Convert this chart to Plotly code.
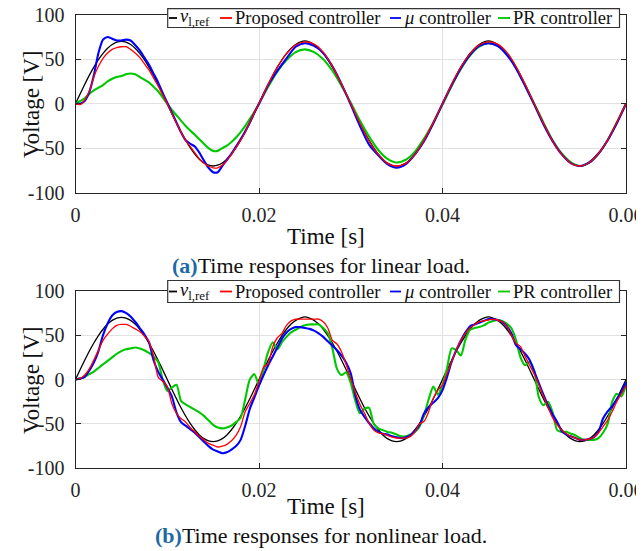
import plotly.graph_objects as go

# ---------------- data (time in ms, voltage in V) ----------------
t_a_ms = [i * 0.5 for i in range(41)] + list(range(21, 61))
t_b_ms = [i * 0.5 for i in range(121)]

# (a) linear load
ref_a = [0, 11.0, 21.6, 31.8, 41.1, 49.5, 56.6, 62.4, 66.6, 69.1, 70.0, 69.1, 66.6, 62.4, 56.6, 49.5, 41.1, 31.8, 21.6, 11.0,
         0, -11.0, -21.6, -31.8, -41.1, -49.5, -56.6, -62.4, -66.6, -69.1, -70.0, -69.1, -66.6, -62.4, -56.6, -49.5, -41.1, -31.8, -21.6, -11.0,
         0,
         21.6, 41.1, 56.6, 66.6, 70.5, 66.6, 56.6, 41.1, 21.6, 0, -21.6, -41.1, -56.6, -66.6, -70.0, -66.6, -56.6, -41.1, -21.6, 0,
         21.6, 41.1, 56.6, 66.6, 70.5, 66.6, 56.6, 41.1, 21.6, 0, -21.6, -41.1, -56.6, -66.6, -70.0, -66.6, -56.6, -41.1, -21.6, 0]
prop_a = [0, -1, 4, 14, 30, 42, 51, 57, 61, 63, 64, 64, 61, 57, 52, 45, 38, 29, 20, 10,
          0, -11, -22, -32, -41, -48, -55, -62, -67, -70, -72, -72, -69, -64, -57, -49, -41, -32, -21, -10,
          0,
          22, 41, 56, 66, 69.5, 67, 58, 42, 22, 0, -22, -42, -57, -67, -70, -67, -57, -41, -21, 0,
          22, 41, 56, 66, 69.5, 67, 58, 42, 22, 0, -22, -42, -57, -67, -70, -66, -56, -41, -21, 0]
mu_a = [0, 0, 3, 13, 32, 57, 72, 75, 73, 71, 71, 72, 71, 66, 60, 52, 44, 34, 24, 12,
        1, -10, -21, -32, -41, -45, -48, -55, -64, -72, -77, -77, -70, -63, -56, -48, -40, -31, -21, -10,
        0,
        21, 37, 51, 64, 68, 65, 57, 42, 22, -1, -25, -46, -58, -68, -72, -68, -57, -42, -22, 0,
        21, 40, 55, 65, 68, 65, 55, 40, 20, -1, -23, -42, -57, -67, -70, -66, -56, -41, -22, 0]
pr_a = [0, 3, 6, 11, 15, 18, 21, 25, 28, 30, 31, 33, 34, 33, 30, 27, 24, 19, 14, 7,
        0, -7, -13, -19, -25, -30, -35, -40, -45, -50, -53, -53, -50, -47, -43, -38, -32, -25, -17, -9,
        0,
        19, 36, 49, 58, 61, 58, 50, 37, 20, 1, -19, -37, -52, -62, -66, -63, -54, -39, -21, -1,
        20, 39, 54, 64, 68, 65, 56, 41, 21, 0, -21, -41, -56, -66, -70, -66, -56, -41, -21, 0]

# (b) nonlinear load
ref_b = [0, 11.0, 21.6, 31.8, 41.1, 49.5, 56.6, 62.4, 66.6, 69.1, 70.0, 69.1, 66.6, 62.4, 56.6, 49.5, 41.1, 31.8, 21.6, 11.0,
         0, -11.0, -21.6, -31.8, -41.1, -49.5, -56.6, -62.4, -66.6, -69.1, -70.0, -69.1, -66.6, -62.4, -56.6, -49.5, -41.1, -31.8, -21.6, -11.0,
         0, 11.0, 21.6, 31.8, 41.1, 49.5, 56.6, 62.4, 66.6, 69.1, 70.5, 69.1, 66.6, 62.4, 56.6, 49.5, 41.1, 31.8, 21.6, 11.0,
         0, -11.0, -21.6, -31.8, -41.1, -49.5, -56.6, -62.4, -66.6, -69.1, -70.0, -69.1, -66.6, -62.4, -56.6, -49.5, -41.1, -31.8, -21.6, -11.0,
         0, 11.0, 21.6, 31.8, 41.1, 49.5, 56.6, 62.4, 66.6, 69.1, 70.5, 69.1, 66.6, 62.4, 56.6, 49.5, 41.1, 31.8, 21.6, 11.0,
         0, -11.0, -21.6, -31.8, -41.1, -49.5, -56.6, -62.4, -66.6, -69.1, -70.0, -69.1, -66.6, -62.4, -56.6, -49.5, -41.1, -31.8, -21.6, -11.0,
         0]
prop_b = [0, 1, 5, 12, 22, 33, 44, 51, 57, 61, 62, 62, 60, 57, 54, 49, 43, 27, 3, -2,
          -8, -27, -38, -44, -48, -54, -59, -64, -68, -72, -74, -76, -75, -73, -69, -63, -53, -36, -27, -17,
          -2, 14, 18, 37, 47, 52, 61, 66, 68, 68, 68, 68, 68, 68, 65, 58, 44, 40, 31, 17,
          1, -15, -28, -38, -49, -57, -60, -61, -63, -65, -66, -66, -66, -64, -59, -50, -47, -36, -21, -12,
          -6, 7, 20, 33, 44, 52, 58, 62, 65, 66, 67, 68, 67, 65, 60, 50, 41, 37, 26, 16,
          6, -6, -19, -31, -43, -51, -57, -61, -64, -66, -68, -68, -67, -65, -60, -53, -46, -36, -25, -16,
          -7]
mu_b = [0, 1, 3, 10, 19, 32, 50, 63, 72, 76, 77, 75, 71, 65, 58, 51, 42, 22, 9, 0,
        -9, -19, -37, -48, -52, -56, -60, -65, -70, -75, -79, -81, -83, -82, -79, -75, -68, -52, -33, -20,
        -7, 5, 16, 26, 36, 46, 53, 57, 59, 59, 58, 57, 55, 52, 48, 43, 38, 33, 27, 19,
        7, -18, -34, -42, -49, -55, -59, -61, -62, -64, -65, -66, -65, -63, -58, -51, -38, -31, -26, -21,
        -12, 3, 20, 33, 44, 53, 60, 62, 64, 66, 68, 68, 67, 65, 60, 52, 39, 34, 29, 22,
        9, -4, -17, -29, -39, -48, -58, -62, -64, -66, -68, -68, -67, -65, -59, -44, -36, -30, -22, -14,
        -3]
pr_b = [0, 1, 3, 6, 9, 13, 17, 21, 25, 29, 32, 34, 35, 36, 35, 33, 30, 26, 20, 0,
        -13, -9, -6, -24, -28, -31, -34, -37, -41, -46, -51, -54, -55, -54, -52, -48, -43, -22, 0, 6,
        -6, 12, 31, 42, 34, 42, 48, 53, 56, 59, 61, 62, 62, 62, 58, 52, 35, 12, 5, 8,
        -4, -24, -38, -33, -32, -50, -55, -57, -59, -60, -62, -64, -64, -62, -59, -53, -40, -22, -8, -17,
        -6, 13, 35, 33, 27, 45, 56, 58, 59, 61, 64, 66, 67, 66, 63, 58, 45, 25, 16, 20,
        10, -20, -29, -25, -37, -57, -59, -59, -61, -63, -66, -68, -68, -68, -66, -60, -50, -25, -16, -19,
        -6]

x_ticks = [0, 0.02, 0.04, 0.06]
x_tick_text = ["0", "0.02", "0.04", "0.06"]
y_ticks = [-100, -50, 0, 50, 100]
y_tick_text = ["-100", "-50", "0", "50", "100"]

series_names = ["<i>v</i><sub>l,ref</sub>", "Proposed controller", "<i>μ</i> controller", "PR controller"]
colors = ["#000000", "#ff0000", "#0000ff", "#00c800"]

captions = ["Time responses for linear load.", "Time responses for nonlinear load."]

# ---------------- figure ----------------
# The page body has an 8 px margin, so the figure is drawn 8 px in from the
# window's top-left corner; all positions below are given in window pixels.
OFF = 8
W, H = 644 - OFF, 551 - OFF
FONT = "Liberation Serif, Times New Roman, serif"


def px(x):
    return (x - OFF) / W


def py(y):
    return 1 - (y - OFF) / H


t_a = [v / 1000 for v in t_a_ms]
t_b = [v / 1000 for v in t_b_ms]

fig = go.Figure()

panels = [
    ("x", "y", t_a, [ref_a, pr_a, mu_a, prop_a]),
    ("x2", "y2", t_b, [ref_b, pr_b, mu_b, prop_b]),
]
order_idx = [0, 3, 2, 1]  # ref, PR, mu, proposed (drawing order)
widths = {0: 1.3, 1: 1.3, 2: 2.1, 3: 2.1}
for xa, ya, tt, data in panels:
    for k, d in enumerate(data):
        ci = order_idx[k]
        fig.add_trace(go.Scatter(
            x=tt, y=d, mode="lines", xaxis=xa, yaxis=ya,
            line=dict(color=colors[ci], width=widths[ci], shape="spline", smoothing=0.7),
            showlegend=False, hoverinfo="skip"))

x_dom = [px(75.5), px(626)]
ya_dom = [py(192.7), py(14.7)]
yb_dom = [py(468.3), py(290.7)]

axis_common = dict(
    showline=True, linecolor="#262626", linewidth=1.2, mirror="ticks",
    ticks="inside", ticklen=5, tickcolor="#262626", tickwidth=1,
    showgrid=True, gridcolor="#e2e2e2", gridwidth=1, zeroline=False,
    automargin=False, ticklabeloverflow="allow",
    tickfont=dict(family=FONT, size=20, color="#262626"),
)

fig.update_layout(
    template="none",
    width=W, height=H, autosize=False,
    margin=dict(l=0, r=0, t=0, b=0, pad=0, autoexpand=False),
    paper_bgcolor="white", plot_bgcolor="white",
    font=dict(family=FONT, color="#111111"),
    showlegend=False,
    xaxis=dict(domain=x_dom, anchor="y", range=[0, 0.06], tickvals=x_ticks, ticktext=x_tick_text,
               ticklabelstandoff=4, **axis_common),
    yaxis=dict(domain=ya_dom, anchor="x", range=[-100, 100], tickvals=y_ticks, ticktext=y_tick_text,
               ticklabelstandoff=6, **axis_common),
    xaxis2=dict(domain=x_dom, anchor="y2", range=[0, 0.06], tickvals=x_ticks, ticktext=x_tick_text,
                ticklabelstandoff=4, **axis_common),
    yaxis2=dict(domain=yb_dom, anchor="x2", range=[-100, 100], tickvals=y_ticks, ticktext=y_tick_text,
                ticklabelstandoff=6, **axis_common),
)

annotations = []
shapes = []

panel_geo = [
    dict(ymid=104, xlabel_y=236, cap_y=265, leg_top=8.6, leg_bot=27.5, tag="(a)"),
    dict(ymid=380, xlabel_y=506, cap_y=535, leg_top=280.5, leg_bot=302.5, tag="(b)"),
]

# legend layout (window pixels): dash start, dash end, text start
leg_items = [(169, 177, 177.5), (220, 232, 233), (390, 401, 402), (498, 510, 511)]

for i, g in enumerate(panel_geo):
    annotations.append(dict(
        x=px(31), y=py(g["ymid"]), xref="paper", yref="paper", text="Voltage [V]",
        textangle=-90, showarrow=False, xanchor="center", yanchor="middle",
        font=dict(family=FONT, size=23, color="#111111")))
    annotations.append(dict(
        x=px(326), y=py(g["xlabel_y"]), xref="paper", yref="paper", text="Time [s]",
        showarrow=False, xanchor="center", yanchor="middle",
        font=dict(family=FONT, size=23, color="#111111")))
    annotations.append(dict(
        x=px(321), y=py(g["cap_y"]), xref="paper", yref="paper",
        text="<b><span style='color:#1f6aa5'>" + g["tag"] + "</span></b>" + captions[i],
        showarrow=False, xanchor="center", yanchor="middle",
        font=dict(family=FONT, size=22, color="#111111")))
    # legend box
    shapes.append(dict(type="rect", xref="paper", yref="paper",
                       x0=px(167.7), x1=px(619.5), y0=py(g["leg_bot"]), y1=py(g["leg_top"]),
                       line=dict(color="#333333", width=1.2), fillcolor="white", layer="above"))
    yc = 18.0 if i == 0 else 291.5
    for j, (d0, d1, tx) in enumerate(leg_items):
        shapes.append(dict(type="line", xref="paper", yref="paper",
                           x0=px(d0), x1=px(d1), y0=py(yc), y1=py(yc),
                           line=dict(color=colors[j], width=1.8), layer="above"))
        annotations.append(dict(
            x=px(tx), y=py(yc), xref="paper", yref="paper", text=series_names[j],
            showarrow=False, xanchor="left", yanchor="middle",
            font=dict(family=FONT, size=18.5, color="#111111")))

fig.update_layout(annotations=annotations, shapes=shapes)

fig.write_html("out.html")
